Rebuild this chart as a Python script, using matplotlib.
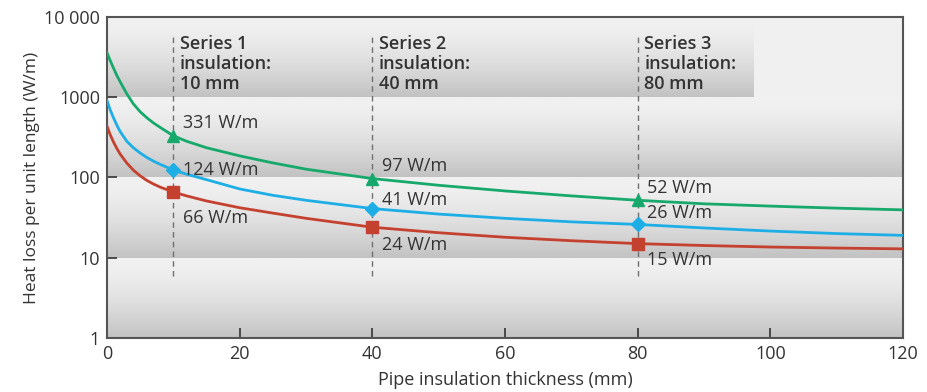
import numpy as np
import matplotlib.pyplot as plt
from matplotlib.colors import LinearSegmentedColormap

plt.rcParams['font.family'] = ['Open Sans', 'DejaVu Sans']

# values
thickness = [0, 0.5, 1, 1.5, 2, 3, 4, 5, 6, 7, 8, 10, 12, 15, 20, 25, 30, 40, 50, 60, 70, 80, 90, 100, 110, 120]
loss_green = [3600, 2850, 2290, 1860, 1550, 1100, 822, 660, 556, 479, 422, 331, 283, 235, 186, 152, 127,
              97, 80, 68, 59, 52, 47, 44, 41.5, 39.5]
loss_blue = [912, 692, 550, 447, 372, 282, 234, 202, 178, 160, 146, 124, 110, 94, 72, 60, 52,
             41, 35, 31, 28, 26, 23.5, 21.5, 20, 19]
loss_red = [437, 339, 275, 229, 195, 151, 123, 105, 92, 83, 76, 66, 59, 51, 42, 36, 31,
            24, 20.5, 18, 16.3, 15, 14.2, 13.6, 13.2, 12.9]

series_x = [10, 40, 80]
series_names = ['Series 1', 'Series 2', 'Series 3']
mark_green = [331, 97, 52]
mark_blue = [124, 41, 26]
mark_red = [66, 24, 15]

ytick_vals = [1, 10, 100, 1000, 10000]
ytick_labels = ['1', '10', '100', '1000', '10 000']

c_green = '#17a96b'
c_blue = '#1eaee6'
c_red = '#c4412f'
txt = '#333333'

fig = plt.figure(figsize=(9.27, 3.92), dpi=100)
ax = fig.add_axes([0.1154, 0.1378, 0.8587, 0.8188])
ax.set_yscale('log')
ax.set_xlim(0, 120)
ax.set_ylim(1, 10000)

# decade bands with a light-to-dark gradient
cmap = LinearSegmentedColormap.from_list('band', ['#f1f1f1', '#c2c2c2'])
grad = (np.linspace(0, 1, 256) ** 1.6).reshape(-1, 1)
ax.set_facecolor('#f0f0f0')
for k in range(4):
    x1 = 1 if k < 3 else 97.5 / 120
    ax.imshow(grad, cmap=cmap, aspect='auto', transform=ax.transAxes,
              extent=[0, x1, k / 4, (k + 1) / 4], zorder=0, interpolation='bilinear')

ax.vlines(series_x, 6, 6000, colors='#707070', linestyles=(0, (4, 3)), lw=1.0, zorder=1)

ax.plot(thickness, loss_green, color=c_green, lw=2, zorder=3)
ax.plot(thickness, loss_blue, color=c_blue, lw=2, zorder=3)
ax.plot(thickness, loss_red, color=c_red, lw=2, zorder=3)
ax.plot(series_x, mark_green, '^', color=c_green, ms=9, zorder=4)
ax.plot(series_x, mark_blue, 'D', color=c_blue, ms=7, zorder=4)
ax.plot(series_x, mark_red, 's', color=c_red, ms=8, zorder=4)

# value labels
offs_green = [9, 9, 9]
offs_blue = [0, 6, 8]
offs_red = [-19, -13, -12]
for vals, offs in [(mark_green, offs_green), (mark_blue, offs_blue), (mark_red, offs_red)]:
    for x, v, dy in zip(series_x, vals, offs):
        ax.annotate(f'{v} W/m', (x, v), xytext=(7, dy), textcoords='offset points',
                    ha='left', va='center', fontsize=13, color=txt, zorder=5)

for x, name, mm in zip(series_x, series_names, series_x):
    ax.text(x + 1.0, 5900, f'{name}\ninsulation:\n{mm} mm', ha='left', va='top',
            fontsize=13, fontweight='semibold', color=txt, linespacing=1.12, zorder=5)

ax.set_xticks(range(0, 121, 20))
ax.set_yticks(ytick_vals)
ax.set_yticklabels(ytick_labels)
ax.minorticks_off()
ax.tick_params(direction='in', length=7, width=1.2, color='#333333',
               labelsize=13, labelcolor=txt, pad=5)
for s in ax.spines.values():
    s.set_color('#555555')
    s.set_linewidth(1.5)

ax.set_xlabel('Pipe insulation thickness (mm)', fontsize=13, color=txt, labelpad=6)
ax.set_ylabel('Heat loss per unit length (W/m)', fontsize=12.5, color=txt, labelpad=3)

fig.savefig('out.png', dpi=100)
